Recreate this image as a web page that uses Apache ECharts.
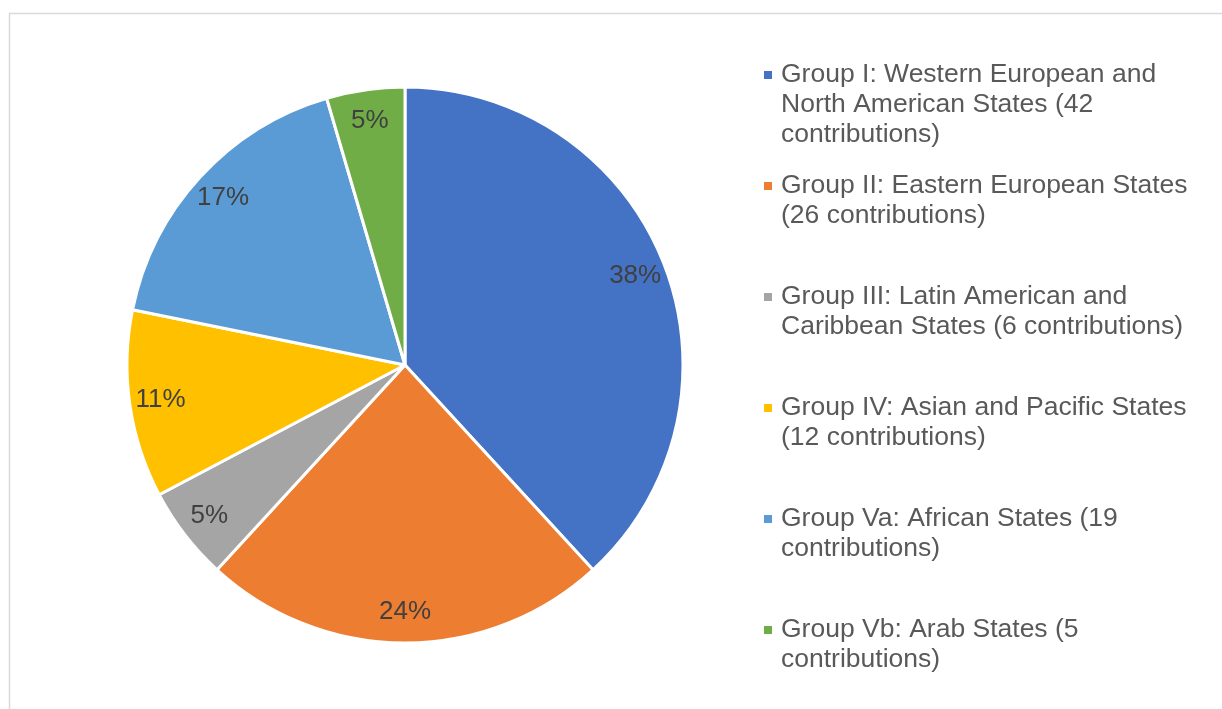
<!DOCTYPE html>
<html>
<head>
<meta charset="utf-8">
<script src="https://cdn.jsdelivr.net/npm/echarts@6/dist/echarts.min.js"></script>
<style>html,body{margin:0;padding:0;background:#fff}#c{width:1222px;height:709px}</style>
</head>
<body>
<div id="c"></div>
<script>
const categories = [
  'Group I: Western European and North American States (42 contributions)',
  'Group II: Eastern European States (26 contributions)',
  'Group III: Latin American and Caribbean States (6 contributions)',
  'Group IV: Asian and Pacific States (12 contributions)',
  'Group Va: African States (19 contributions)',
  'Group Vb: Arab States (5 contributions)'
];
const legendLines = [
  ['Group I: Western European and', 'North American States (42', 'contributions)'],
  ['Group II: Eastern European States', '(26 contributions)'],
  ['Group III: Latin American and', 'Caribbean States (6 contributions)'],
  ['Group IV: Asian and Pacific States', '(12 contributions)'],
  ['Group Va: African States (19', 'contributions)'],
  ['Group Vb: Arab States (5', 'contributions)']
];
const values = [42, 26, 6, 12, 19, 5];
const colors = ['#4472C4', '#ED7D31', '#A5A5A5', '#FFC000', '#5B9BD5', '#70AD47'];

const total = values.reduce((a, b) => a + b, 0);
const data = categories.map((n, i) => ({ name: n, value: values[i], itemStyle: { color: colors[i] } }));

const FONT = 'Liberation Sans, Arial, sans-serif';
const rich = {
  t: { fontSize: 26.5, lineHeight: 30, color: '#595959', fontFamily: FONT },
  ind: { width: 17, height: 8, lineHeight: 30 }
};
colors.forEach((c, i) => {
  rich['s' + i] = { width: 8, height: 8, backgroundColor: c, verticalAlign: 'middle', lineHeight: 30 };
  rich['g' + i] = { width: 9, height: 8, lineHeight: 30 };
});

const chart = echarts.init(document.getElementById('c'));
chart.setOption({
  animation: false,
  graphic: [{
    type: 'rect', silent: true, z: -10,
    shape: { x: 9.5, y: 13.5, width: 1400, height: 900 },
    style: { fill: 'none', stroke: '#d9d9d9', lineWidth: 1.5 }
  }],
  legend: {
    orient: 'vertical',
    left: 758,
    top: 60,
    height: 660,
    padding: 0,
    itemWidth: 0,
    itemHeight: 0,
    itemGap: 21,
    data: categories,
    selectedMode: false,
    formatter: function (name) {
      const i = categories.indexOf(name);
      const lines = legendLines[i].slice();
      while (lines.length < 3) lines.push(' ');
      return lines.map((l, k) => (k === 0 ? `{s${i}|}{g${i}|}` : '{ind|}') + `{t|${l}}`).join('\n');
    },
    textStyle: { rich: rich, fontSize: 26.5, lineHeight: 30 }
  },
  series: [{
    type: 'pie',
    center: [405, 365],
    radius: [0, 278],
    startAngle: 90,
    clockwise: true,
    silent: true,
    label: { show: false },
    labelLine: { show: false },
    itemStyle: { borderColor: '#fff', borderWidth: 3 },
    data: data
  }, {
    type: 'pie',
    center: [405, 365],
    radius: [232, 256],
    startAngle: 90,
    clockwise: true,
    silent: true,
    legendHoverLink: false,
    itemStyle: { color: 'rgba(0,0,0,0)' },
    label: {
      show: true,
      position: 'inside',
      fontSize: 26,
      color: '#404040',
      fontFamily: FONT,
      formatter: p => Math.round(p.value / total * 100) + '%'
    },
    labelLine: { show: false },
    data: categories.map((n, i) => ({ name: n + ' ', value: values[i] }))
  }]
});
</script>
</body>
</html>
